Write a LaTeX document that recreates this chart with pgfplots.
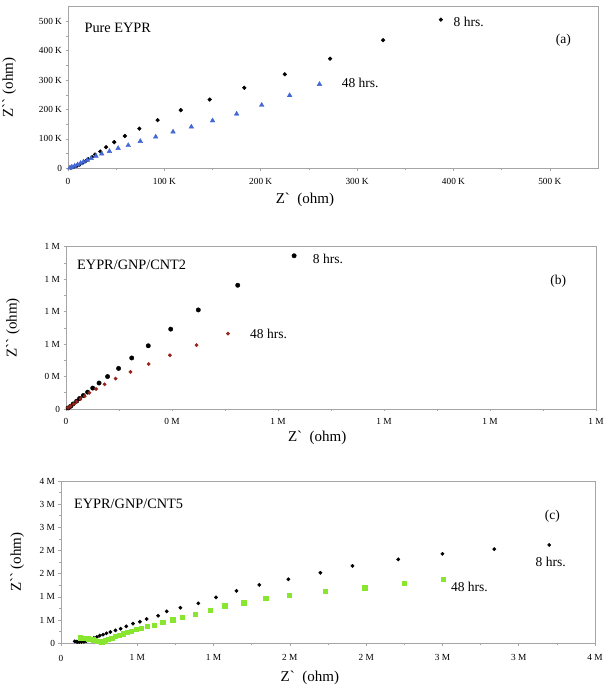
\documentclass[border=0pt]{standalone}
\usepackage{fontspec}
\setmainfont{Liberation Serif}
\usepackage{pgfplots}
\pgfplotsset{compat=1.18}
\definecolor{tribl}{RGB}{66,104,214}
\definecolor{dred}{RGB}{150,35,25}
\definecolor{lgreen}{RGB}{135,230,45}
\definecolor{framec}{RGB}{165,165,165}
\pgfplotsset{
 myax/.style={scale only axis, axis line style={framec, line width=0.8pt},
   tick style={framec, line width=0.6pt}, tick align=outside,
   major tick length=2.5pt, minor tick length=2pt, minor tick num=1,
   tick pos=left, clip=false,
   ticklabel style={font=\fontsize{9.3}{11}\selectfont},
   xticklabel style={yshift=-3.5pt},
   label style={font=\fontsize{15}{17}\selectfont},
   xlabel={Z\textasciigrave{}\ \ (ohm)},
   ylabel={Z\textasciigrave\textasciigrave{}  (ohm)},
 },
}
\tikzset{ann/.style={font=\fontsize{13.5}{16}\selectfont, inner sep=0pt},
         ttl/.style={font=\fontsize{14.3}{16}\selectfont, inner sep=0pt}}
\begin{document}
\begin{tikzpicture}[x=1pt,y=1pt]
\useasboundingbox (0,0) rectangle (606,687);
% ---------- (a)
\begin{axis}[myax, at={(68pt,518.7pt)}, anchor=south west, width=530pt, height=161.6pt,
  xmin=0, xmax=550, ymin=0, ymax=550,
  xtick={0,100,...,500}, xticklabels={\textrm{0},\textrm{100 K},\textrm{200 K},\textrm{300 K},\textrm{400 K},\textrm{500 K}},
  ytick={0,100,...,500}, yticklabels={\textrm{0},\textrm{100 K},\textrm{200 K},\textrm{300 K},\textrm{400 K},\textrm{500 K}},
  xlabel style={at={(axis description cs:0.447,-0.196)}, anchor=center},
  ylabel style={at={(axis description cs:-0.111,0.5)}, anchor=center}]
\addplot[only marks, mark=*, mark size=1.9pt, black] coordinates {
(387,506)(327,436)(272,373)(225,320)(183,274)(147,234)(117,198)(93,164)(74,135)(59,110)(48,89)(39.5,72)(33.5,57)(28,47)(25,38)(21,31)(18.5,25)(15,18)(12,12.5)(9,8)(6,4.5)(3,2)};
\addplot[only marks, mark=triangle*, mark size=2.7pt, color=tribl] coordinates {
(261,286)(230,248)(201,215)(175,185)(150,162)(128,141)(109,124)(91,107)(75,92)(62.5,78)(52,68)(43,58)(35,49)(29,42)(24,34)(20,28)(16,22)(13,17)(10,12.5)(7,8)(4,4.5)(2,2)};
\node[ttl, anchor=west] at (axis cs:17,477) {Pure EYPR};
\node[ann, anchor=west] at (axis cs:400,497) {8 hrs.};
\node[ann, anchor=west] at (axis cs:284,290) {48 hrs.};
\node[ann, anchor=center] at (axis cs:514,437) {(a)};
\end{axis}
% ---------- (b)
\begin{axis}[myax, at={(66pt,278pt)}, anchor=south west, width=530pt, height=162.3pt,
  xmin=0, xmax=1.25, ymin=0, ymax=1.25,
  xtick={0,0.25,...,1.25}, xticklabels={\textrm{0},\textrm{0 M},\textrm{1 M},\textrm{1 M},\textrm{1 M},\textrm{1 M}},
  ytick={0,0.25,...,1.25}, yticklabels={\textrm{0},\textrm{0 M},\textrm{1 M},\textrm{1 M},\textrm{1 M},\textrm{1 M}},
  xlabel style={at={(axis description cs:0.474,-0.179)}, anchor=center},
  ylabel style={at={(axis description cs:-0.1,0.5)}, anchor=center}]
\addplot[only marks, mark=*, mark size=2.2pt, black] coordinates {
(0.538,1.18)(0.405,0.953)(0.312,0.763)(0.247,0.615)(0.194,0.487)(0.155,0.393)(0.124,0.3125)(0.098,0.25)(0.078,0.2)(0.063,0.161)(0.051,0.130)(0.041,0.104)(0.032,0.081)(0.025,0.06)(0.017,0.039)(0.011,0.021)(0.005,0.008)};
\addplot[only marks, mark=*, mark size=1.7pt, color=dred] coordinates {
(0.382,0.581)(0.308,0.492)(0.245,0.414)(0.195,0.346)(0.152,0.286)(0.117,0.234)(0.091,0.19)(0.071,0.154)(0.055,0.125)(0.044,0.099)(0.034,0.078)(0.025,0.057)(0.018,0.039)(0.011,0.023)(0.005,0.01)};
\node[ttl, anchor=west] at (axis cs:0.026,1.11) {EYPR/GNP/CNT2};
\node[ann, anchor=west] at (axis cs:0.582,1.154) {8 hrs.};
\node[ann, anchor=west] at (axis cs:0.434,0.581) {48 hrs.};
\node[ann, anchor=center] at (axis cs:1.161,0.984) {(b)};
\end{axis}
% ---------- (c)
\begin{axis}[myax, at={(61pt,43.7pt)}, anchor=south west, width=534pt, height=162.3pt,
  xmin=0, xmax=3.5, ymin=0, ymax=3.5,
  xticklabel style={yshift=-2pt},
  xtick={0,0.5,...,3.5}, xticklabels={\textrm{0},\textrm{1 M},\textrm{1 M},\textrm{2 M},\textrm{2 M},\textrm{3 M},\textrm{3 M},\textrm{4 M}},
  ytick={0,0.5,...,3.5}, yticklabels={\textrm{0},\textrm{1 M},\textrm{1 M},\textrm{2 M},\textrm{2 M},\textrm{3 M},\textrm{3 M},\textrm{4 M}},
  xlabel style={at={(axis description cs:0.466,-0.214)}, anchor=center},
  ylabel style={at={(axis description cs:-0.082,0.5)}, anchor=center}]
\addplot[only marks, mark=*, mark size=1.7pt, black] coordinates {
(3.20,2.12)(2.84,2.03)(2.50,1.93)(2.21,1.81)(1.91,1.67)(1.70,1.52)(1.49,1.38)(1.30,1.26)(1.15,1.13)(1.016,0.99)(0.90,0.862)(0.783,0.767)(0.693,0.690)(0.637,0.595)(0.561,0.524)(0.517,0.466)(0.472,0.423)(0.428,0.366)(0.391,0.315)(0.357,0.280)(0.324,0.244)(0.298,0.216)(0.276,0.187)(0.254,0.165)(0.235,0.137)(0.215,0.115)(0.196,0.086)(0.178,0.065)(0.165,0.045)(0.150,0.035)(0.135,0.03)(0.120,0.03)(0.110,0.03)(0.100,0.035)(0.090,0.04)};
\addplot[only marks, mark=square*, mark size=2.2pt, color=lgreen] coordinates {
(2.505,1.386)(2.25,1.293)(1.99,1.20)(1.73,1.12)(1.496,1.041)(1.341,0.970)(1.197,0.875)(1.074,0.810)(0.978,0.711)(0.881,0.625)(0.794,0.567)(0.733,0.509)(0.667,0.453)(0.609,0.394)(0.566,0.366)(0.526,0.330)(0.494,0.302)(0.461,0.265)(0.435,0.244)(0.407,0.208)(0.381,0.180)(0.357,0.151)(0.331,0.115)(0.309,0.086)(0.288,0.057)(0.270,0.036)(0.255,0.04)(0.24,0.05)(0.225,0.065)(0.21,0.078)(0.195,0.088)(0.18,0.097)(0.165,0.105)(0.15,0.11)(0.137,0.115)(0.124,0.12)};
\node[ttl, anchor=west] at (axis cs:0.085,3.0) {EYPR/GNP/CNT5};
\node[ann, anchor=west] at (axis cs:3.11,1.745) {8 hrs.};
\node[ann, anchor=west] at (axis cs:2.555,1.207) {48 hrs.};
\node[ann, anchor=center] at (axis cs:3.22,2.75) {(c)};
\end{axis}
\end{tikzpicture}
\end{document}
